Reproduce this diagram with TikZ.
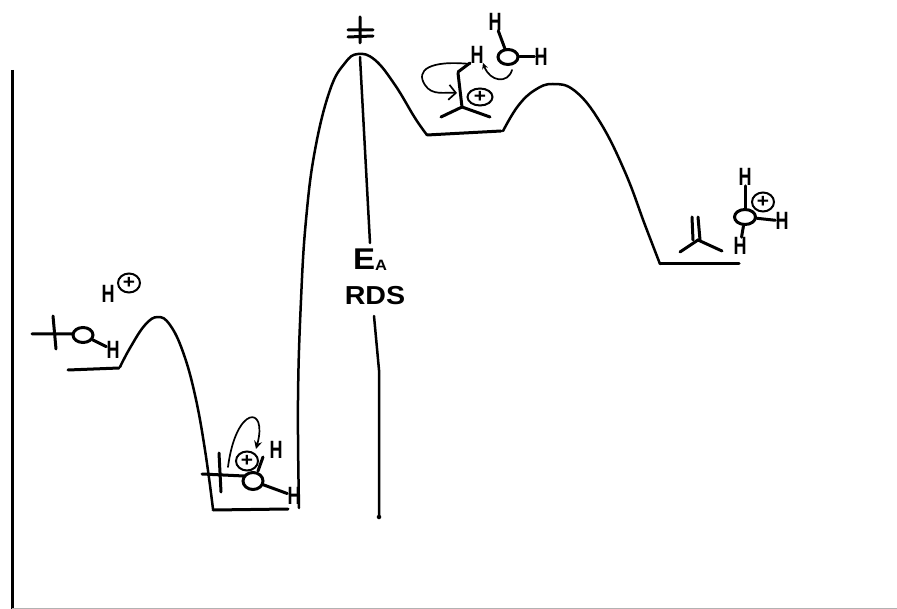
\documentclass[tikz,border=0pt]{standalone}
\usepackage{fontspec}
\setmainfont{Liberation Sans}[FakeStretch=0.72]
\newfontfamily\labelfont{Liberation Sans}[FakeStretch=1.1]
\usetikzlibrary{shapes.geometric,arrows.meta}
\tikzset{
  curve/.style={line width=2.5pt,line cap=round,line join=round},
  level/.style={line width=3pt,line cap=round},
  bond/.style={line width=3pt,line cap=round},
  push/.style={line width=1.7pt,line cap=round,-{Stealth[length=8pt,width=8pt]}},
  atomH/.style={font=\bfseries\fontsize{25}{25}\selectfont,inner sep=0pt},
  oxygen/.style={ellipse,draw,line width=3pt,minimum width=20pt,minimum height=15pt,inner sep=0pt},
  charge/.style={ellipse,draw,line width=2pt,minimum width=22pt,minimum height=19pt,inner sep=0pt,font=\labelfont\bfseries\fontsize{19}{19}\selectfont}
}
\begin{document}
\begin{tikzpicture}[x=1pt,y=-1pt]
  \useasboundingbox (0,0) rectangle (897,609);
  % Draw axes
  \draw [line width=3pt] (12,70)--(12,609);
  \draw [line width=1pt, black!30] (12,608)--(897,608);

  % Draw energy profile (levels and humps)
  \draw [level] (68,370)--(119,368);
  \draw [curve] plot [smooth,tension=0.7] coordinates {(120,367) (130,348) (145,325) (158,317) (170,325) (183,352) (195,395) (205,450) (213,509)};
  \draw [level] (213,510)--(288,509);
  \draw [curve] plot [smooth,tension=0.7] coordinates {(299,508) (298,400) (301,300) (306,220) (315,150) (330,90) (345,63) (358,54) (375,60) (395,85) (415,118) (427,135)};
  \draw [level] (427,135)--(501,131);
  \draw [curve] plot [smooth,tension=0.7] coordinates {(503,131) (518,106) (535,90) (553,84) (575,91) (600,122) (625,172) (645,225) (660,264)};
  \draw [level] (660,264)--(739,264);

  % Activation energy line, split by the labels
  \draw [curve] (360,57)--(370,243);
  \draw [curve] (374,316)--(379,370)--(379,517);
  \node (dotEa) at (379,517) [fill,circle,inner sep=1.6pt] {};
  \node (labelEa) at (370,260) {\labelfont\bfseries\fontsize{30}{30}\selectfont E\raisebox{-1pt}{\fontsize{15}{15}\selectfont A}};
  \node (labelRds) at (375,296) {\labelfont\bfseries\fontsize{26}{26}\selectfont RDS};

  % Transition state mark on the tallest peak
  \draw [bond] (360,17)--(360,43) (348,30)--(373,30) (348,37)--(373,36);

  % Starting alcohol and free proton
  \draw [bond] (32,334)--(73,334) (53,316)--(56,349);
  \node (oxA) at (83,335) [oxygen] {};
  \node (hA) at (113,350) [atomH] {H};
  \draw [bond] (oxA)--(hA);
  \node (hProton) at (108,294) [atomH] {H};
  \node (chargeA) at (129,283) [charge] {+};

  % Protonated alcohol in the first well
  \draw [bond] (202,474)--(244,476) (219,453)--(221,492);
  \node (oxB) at (253,481) [oxygen,minimum height=17pt] {};
  \node (hB) at (276,450) [atomH] {H};
  \node (hC) at (294,496) [atomH] {H};
  \draw [bond] (oxB)--(hC);
  \draw [bond] (258,471)--(263,457);
  \node (chargeB) at (247,461) [charge] {+};
  \draw [push] (228,467) .. controls (236,405) and (268,405) .. (256,449);

  % Carbocation with water taking the proton
  \coordinate (carbon) at (462,107);
  \draw [bond] (458,73)--(carbon)--(441,117) (carbon)--(490,117);
  \draw [bond] (458,72)--(470,63);
  \node (hD) at (477,55) [atomH] {H};
  \node (chargeC) at (480,97) [charge,minimum width=25pt,minimum height=17pt] {+};
  \draw [line width=1.7pt,line cap=round,-{Straight Barb[length=7pt,width=15pt]}] (470,64) .. controls (430,60) and (415,70) .. (425,85) .. controls (432,96) and (445,92) .. (457,93);
  \node (oxC) at (508,57) [oxygen] {};
  \node (hE) at (495,22) [atomH] {H};
  \node (hF) at (541,57) [atomH] {H};
  \draw [bond] (oxC)--(hE);
  \draw [bond] (oxC)--(hF);
  \draw [push,-{Stealth[length=6pt,width=6pt]}] (512,70) .. controls (508,84) and (490,82) .. (483,63);

  % Alkene and hydronium at the end
  \coordinate (alkene) at (698,240);
  \draw [bond] (680,252)--(alkene)--(722,251);
  \draw [bond] (692,217)--(693,240) (698,217)--(700,240);
  \node (oxD) at (745,217) [oxygen,minimum width=21pt] {};
  \node (hG) at (745,177) [atomH] {H};
  \node (hH) at (782,221) [atomH] {H};
  \node (hI) at (740,246) [atomH] {H};
  \draw [bond] (oxD)--(hG);
  \draw [bond] (oxD)--(hH);
  \draw [bond] (oxD)--(hI);
  \node (chargeD) at (763,202) [charge] {+};
\end{tikzpicture}
\end{document}
